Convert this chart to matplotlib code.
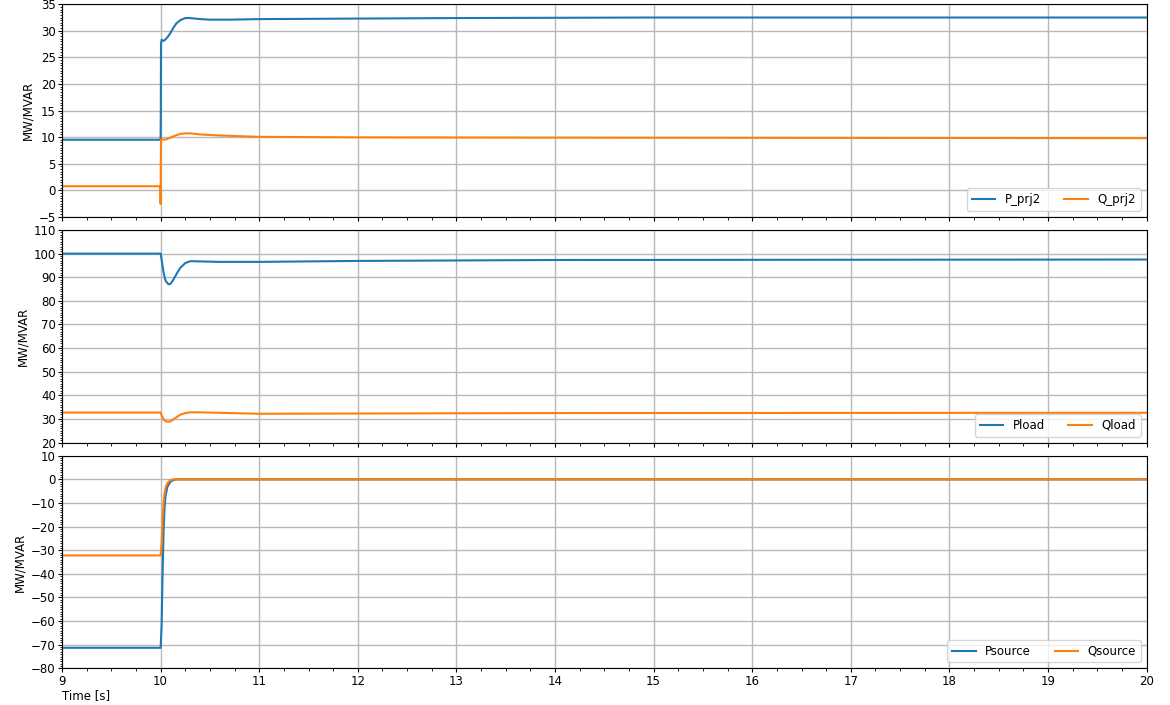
# Power flow response of prj2, load and source after the step at t = 10 s
import matplotlib
matplotlib.use("Agg")
import matplotlib.pyplot as plt
from matplotlib.ticker import MultipleLocator, AutoMinorLocator

# prj2 injections
t_prj2 = [9.0, 10.0, 10.002, 10.004, 10.01, 10.03, 10.05, 10.07, 10.1, 10.13, 10.16, 10.2, 10.25,
          10.3, 10.4, 10.5, 10.7, 11.0, 12.0, 13.0, 15.0, 20.0]
p_prj2 = [9.5, 9.5, 15.0, 27.5, 28.3, 28.1, 28.4, 28.8, 29.6, 30.6, 31.4, 32.0, 32.4,
          32.4, 32.2, 32.1, 32.1, 32.2, 32.3, 32.4, 32.5, 32.5]
t_q_prj2 = [9.0, 9.998, 10.0, 10.002, 10.004, 10.01, 10.03, 10.06, 10.1, 10.15, 10.2, 10.25,
            10.3, 10.4, 10.6, 11.0, 12.0, 14.0, 20.0]
q_prj2 = [0.75, 0.75, -2.6, 5.0, 9.5, 9.6, 9.5, 9.6, 9.9, 10.3, 10.6, 10.7,
          10.7, 10.5, 10.3, 10.05, 9.95, 9.9, 9.8]

# load
t_load = [9.0, 10.0, 10.01, 10.03, 10.05, 10.08, 10.1, 10.13, 10.17, 10.2, 10.25, 10.3,
          10.4, 10.6, 11.0, 12.0, 14.0, 20.0]
p_load = [100.0, 100.0, 97.5, 92.0, 88.5, 87.0, 87.2, 89.0, 92.0, 94.0, 96.0, 96.8,
          96.7, 96.5, 96.5, 96.9, 97.3, 97.5]
q_load = [32.7, 32.7, 31.5, 29.8, 29.0, 28.8, 29.0, 29.8, 31.0, 31.8, 32.5, 32.8,
          32.8, 32.6, 32.2, 32.3, 32.5, 32.6]

# source
t_src = [9.0, 10.0, 10.01, 10.02, 10.03, 10.04, 10.05, 10.07, 10.1, 10.13, 10.16, 10.2, 20.0]
p_src = [-71.3, -71.3, -62.0, -40.0, -22.0, -12.0, -7.0, -3.0, -1.0, -0.3, 0.0, 0.0, 0.0]
q_src = [-32.2, -32.2, -27.0, -17.0, -10.0, -6.0, -3.5, -1.5, -0.3, 0.0, 0.0, 0.0, 0.0]

panels = [
    (t_prj2, p_prj2, t_q_prj2, q_prj2, "P_prj2", "Q_prj2", (-5, 35), 5),
    (t_load, p_load, t_load, q_load, "Pload", "Qload", (20, 110), 10),
    (t_src, p_src, t_src, q_src, "Psource", "Qsource", (-80, 10), 10),
]

plt.rcParams["font.size"] = 8.5

fig, axes = plt.subplots(3, 1, figsize=(11.7, 7.05), dpi=100, sharex=True)
fig.subplots_adjust(left=0.053, right=0.980, top=0.994, bottom=0.052, hspace=0.062)

for ax, (tp, yp, tq, yq, lp, lq, ylim, step) in zip(axes, panels):
    ax.plot(tp, yp, color="tab:blue", lw=1.5, label=lp)
    ax.plot(tq, yq, color="tab:orange", lw=1.5, label=lq)
    ax.set_ylim(*ylim)
    ax.yaxis.set_major_locator(MultipleLocator(step))
    ax.yaxis.set_minor_locator(AutoMinorLocator(10))
    ax.xaxis.set_major_locator(MultipleLocator(1))
    ax.xaxis.set_minor_locator(AutoMinorLocator(4))
    ax.tick_params(which="major", length=3, pad=1.5)
    ax.tick_params(which="minor", length=1.8)
    ax.grid(True, which="major", color="#b8b8b8", lw=1.0)
    ax.set_ylabel("MW/MVAR", labelpad=3)
    ax.legend(loc="lower right", ncol=2, fontsize=8.5)

axes[-1].set_xlim(9, 20)
axes[-1].set_xlabel("Time [s]", loc="left", labelpad=1)

fig.savefig("out.png", dpi=100)
